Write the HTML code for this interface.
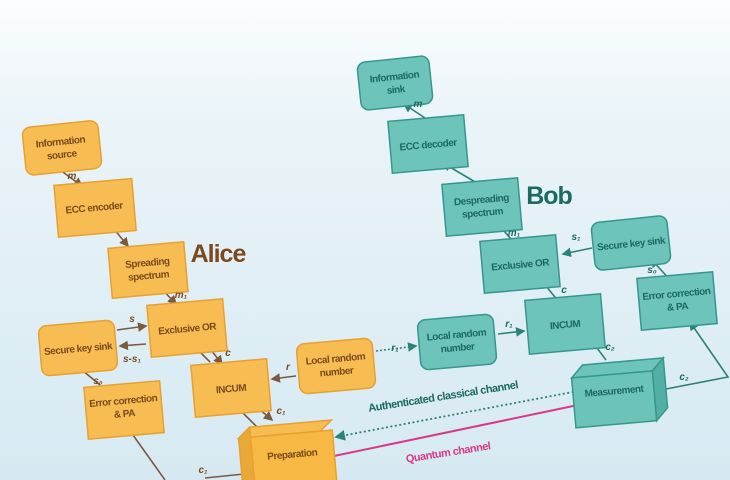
<!DOCTYPE html>
<html><head><meta charset="utf-8"><style>
html,body{margin:0;padding:0;width:730px;height:480px;overflow:hidden}
body{background:linear-gradient(180deg,#fbfdfe 0%,#eaf4f8 25%,#d6e9f2 100%)}
svg{display:block}
.a rect,.a path.b{fill:#f7bd52;stroke:#e6a130;stroke-width:1.5}
.t rect,.t path.b{fill:#6dc4ba;stroke:#36978d;stroke-width:1.5}
.a text{fill:#7a4a1e}
.t text{fill:#1c6a62}
text{font-family:"Liberation Sans Narrow","Liberation Sans",sans-serif;font-weight:bold;font-size:10px;letter-spacing:-0.5px;text-anchor:middle}
.l{font-style:italic;font-size:10px;letter-spacing:0}
.ln{stroke:#7a5a40;stroke-width:1.6;fill:none}
.lt{stroke:#2c8178;stroke-width:1.6;fill:none}
</style></head><body>
<svg width="730" height="480" viewBox="0 0 730 480">
<defs>
<marker id="ma" markerWidth="6" markerHeight="6" refX="5" refY="3" orient="auto"><path d="M0,0L6,3L0,6z" fill="#7a5a40"/></marker>
<marker id="mt" markerWidth="6" markerHeight="6" refX="5" refY="3" orient="auto"><path d="M0,0L6,3L0,6z" fill="#2c8178"/></marker>
</defs>
<g class="ln">
<line x1="60" y1="170" x2="82" y2="186" marker-end="url(#ma)"/>
<line x1="108" y1="222" x2="128" y2="246" marker-end="url(#ma)"/>
<line x1="158" y1="285" x2="176" y2="304" marker-end="url(#ma)"/>
<line x1="117" y1="330" x2="146" y2="326" marker-end="url(#ma)"/>
<line x1="146" y1="344" x2="120" y2="346" marker-end="url(#ma)"/>
<line x1="203" y1="340" x2="222" y2="364" marker-end="url(#ma)"/>
<line x1="192" y1="344" x2="210" y2="362"/>
<line x1="100" y1="385" x2="76" y2="365" marker-end="url(#ma)"/>
<line x1="296" y1="376" x2="272" y2="379" marker-end="url(#ma)"/>
<line x1="252" y1="403" x2="272" y2="420" marker-end="url(#ma)"/>
<line x1="240" y1="410" x2="258" y2="428"/>
<line x1="128" y1="428" x2="165" y2="480"/>
<line x1="244" y1="474" x2="205" y2="478"/>
</g>
<g class="lt">
<line x1="428" y1="120" x2="404" y2="104" marker-end="url(#mt)"/>
<line x1="482" y1="186" x2="443" y2="163" marker-end="url(#mt)"/>
<line x1="512" y1="240" x2="496" y2="222" marker-end="url(#mt)"/>
<line x1="592" y1="248" x2="563" y2="254" marker-end="url(#mt)"/>
<line x1="559" y1="302" x2="541" y2="280" marker-end="url(#mt)"/>
<line x1="498" y1="334" x2="524" y2="331" marker-end="url(#mt)"/>
<line x1="606" y1="360" x2="588" y2="336" marker-end="url(#mt)"/>
<line x1="672" y1="282" x2="651" y2="259" marker-end="url(#mt)"/>
<polyline points="666,389 728,377 690,322" marker-end="url(#mt)"/>
</g>
<line x1="376" y1="351" x2="416" y2="346" stroke="#2c8178" stroke-width="1.6" stroke-dasharray="2,2" marker-end="url(#mt)"/>
<line x1="578" y1="391" x2="336" y2="437" stroke="#2c8178" stroke-width="1.8" stroke-dasharray="2,2.5" marker-end="url(#mt)"/>
<line x1="334" y1="456" x2="578" y2="405" stroke="#d63a88" stroke-width="2"/>
<circle cx="578" cy="405" r="2.5" fill="#d63a88"/>
<g class="a">
<g transform="rotate(-6 61 148)"><rect x="24" y="124" width="76" height="48" rx="8"/><text x="61" y="145">Information</text><text x="61" y="158">source</text></g>
<g transform="rotate(-5 94 207)"><rect x="56" y="182" width="78" height="52"/><text x="94" y="211">ECC encoder</text></g>
<g transform="rotate(-5 148 270)"><rect x="110" y="245" width="76" height="50"/><text x="148" y="266">Spreading</text><text x="148" y="279">spectrum</text></g>
<g transform="rotate(-5 187 328)"><rect x="149" y="302" width="76" height="52"/><text x="187" y="332">Exclusive OR</text></g>
<g transform="rotate(-5 78 348)"><rect x="40" y="323" width="76" height="50" rx="8"/><text x="78" y="352">Secure key sink</text></g>
<g transform="rotate(-5 124 410)"><rect x="86" y="384" width="76" height="52"/><text x="124" y="404">Error correction</text><text x="124" y="417">&amp; PA</text></g>
<g transform="rotate(-5 231 388)"><rect x="193" y="362" width="76" height="52"/><text x="231" y="392">INCUM</text></g>
<g transform="rotate(-5 336 366)"><rect x="298" y="341" width="76" height="50" rx="8"/><text x="336" y="362">Local random</text><text x="336" y="375">number</text></g>
<g transform="rotate(-5 288 452)">
<path class="b" d="M240,434 L252,424 L334,424 L322,434 Z"/>
<path class="b" d="M240,434 L252,424 L252,486 L240,496 Z" style="fill:#e9a838"/>
<rect x="252" y="434" width="82" height="52" style="fill:#f7b844"/>
<text x="292" y="458">Preparation</text></g>
<text class="l" x="72" y="179">m</text>
<text class="l" x="181" y="298">m₁</text>
<text class="l" x="132" y="322">s</text>
<text class="l" x="132" y="362">s-s₁</text>
<text class="l" x="228" y="356">c</text>
<text class="l" x="288" y="370">r</text>
<text class="l" x="98" y="384">s₀</text>
<text class="l" x="281" y="414">c₁</text>
<text class="l" x="203" y="473">c₁</text>
<text x="218" y="262" style="font-size:25px;letter-spacing:-1px;font-family:'Liberation Sans',sans-serif">Alice</text>
</g>
<g class="t">
<g transform="rotate(-6 395 83)"><rect x="359" y="59" width="72" height="48" rx="8"/><text x="395" y="80">Information</text><text x="395" y="93">sink</text></g>
<g transform="rotate(-5 428 144)"><rect x="390" y="118" width="76" height="52"/><text x="428" y="148">ECC decoder</text></g>
<g transform="rotate(-5 482 207)"><rect x="444" y="181" width="76" height="52"/><text x="482" y="203">Despreading</text><text x="482" y="216">spectrum</text></g>
<g transform="rotate(-5 520 264)"><rect x="482" y="238" width="76" height="52"/><text x="520" y="268">Exclusive OR</text></g>
<g transform="rotate(-6 631 243)"><rect x="593" y="219" width="76" height="48" rx="8"/><text x="631" y="247">Secure key sink</text></g>
<g transform="rotate(-5 677 301)"><rect x="639" y="275" width="76" height="52"/><text x="677" y="297">Error correction</text><text x="677" y="310">&amp; PA</text></g>
<g transform="rotate(-5 565 324)"><rect x="527" y="297" width="76" height="54"/><text x="565" y="328">INCUM</text></g>
<g transform="rotate(-5 457 342)"><rect x="419" y="317" width="76" height="50" rx="8"/><text x="457" y="338">Local random</text><text x="457" y="351">number</text></g>
<g transform="rotate(-5 618 392)">
<path class="b" d="M573,374 L585,362 L666,362 L654,374 Z"/>
<path class="b" d="M654,374 L666,362 L666,412 L654,424 Z" style="fill:#52afa4"/>
<rect x="573" y="374" width="81" height="50" style="fill:#6cc4b9"/>
<text x="614" y="394">Measurement</text></g>
<text class="l" x="418" y="107">m</text>
<text class="l" x="514" y="236">m₁</text>
<text class="l" x="576" y="240">s₁</text>
<text class="l" x="564" y="293">c</text>
<text class="l" x="652" y="273">s₀</text>
<text class="l" x="395" y="351">r₁</text>
<text class="l" x="509" y="327">r₁</text>
<text class="l" x="610" y="350">c₂</text>
<text class="l" x="684" y="380">c₂</text>
<text x="549" y="204" style="font-size:25px;letter-spacing:-1px;font-family:'Liberation Sans',sans-serif">Bob</text>
<g transform="rotate(-9 443 396)"><text x="443" y="400" style="font-size:11px">Authenticated classical channel</text></g>
</g>
<g transform="rotate(-9 448 452)"><text x="448" y="456" style="fill:#d63a88;font-size:11px">Quantum channel</text></g>
</svg>
</body></html>
